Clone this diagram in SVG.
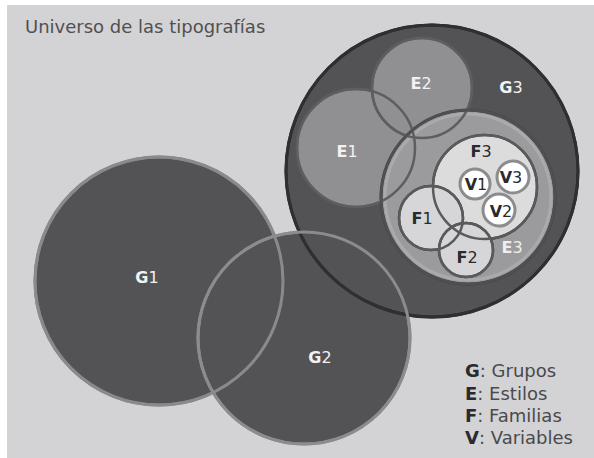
<svg xmlns="http://www.w3.org/2000/svg" width="594" height="458" viewBox="0 0 594 458">
<style>
  text { font-family: "DejaVu Sans", Verdana, sans-serif; }
  .lbl { font-size: 16px; text-anchor: middle; }
  .lt { fill: #f2f2f2; }
  .dk { fill: #2a2a2c; }
  .b { font-weight: bold; }
  .gfill { fill: #535355; }
  .efill { fill: #909092; }
  .ffill { fill: #d6d6d8; }
  .vc { fill: #ffffff; stroke: #8c8c8e; stroke-width: 3; }
  .line { fill: none; }
  .legend { font-size: 18px; fill: #4a4a4c; }
  .legend .b { fill: #2a2a2c; }
</style>
<rect x="0" y="0" width="594" height="458" fill="#ffffff"/>
<rect x="7" y="5" width="587" height="453" fill="#d3d3d5"/>
<text x="25" y="33" style="font-size:18px" fill="#505052">Universo de las tipografías</text>

<g id="G1">
  <circle class="gfill" cx="159" cy="281" r="124" stroke="#7e7e80" stroke-width="3"/>
  <text class="lbl lt" x="147" y="283"><tspan class="b">G</tspan>1</text>
</g>
<g id="G2">
  <circle class="gfill" cx="304" cy="338" r="106" stroke="#8c8c8e" stroke-width="3"/>
  <text class="lbl lt" x="320" y="363"><tspan class="b">G</tspan>2</text>
</g>
<g id="G3">
  <circle class="gfill" cx="432" cy="171" r="146" stroke="#2f2f31" stroke-width="3"/>
  <text class="lbl lt" x="511" y="93"><tspan class="b">G</tspan>3</text>
</g>
<g id="G-outlines">
  <circle class="line" cx="159" cy="281" r="124" stroke="#8a8a8c" stroke-width="3"/>
  <circle class="line" cx="432" cy="171" r="146" stroke="#2f2f31" stroke-width="3"/>
  <circle class="line" cx="304" cy="338" r="106" stroke="#8c8c8e" stroke-width="3"/>
</g>

<g id="E1">
  <circle class="efill" cx="356" cy="148" r="59" stroke="#5e5e60" stroke-width="2.5"/>
  <text class="lbl lt" x="347" y="157"><tspan class="b">E</tspan>1</text>
</g>
<g id="E2">
  <circle class="efill" cx="422" cy="88" r="50" stroke="#5e5e60" stroke-width="2.5"/>
  <text class="lbl lt" x="421" y="89"><tspan class="b">E</tspan>2</text>
</g>
<g id="E3">
  <circle cx="468" cy="197" r="87" fill="#9b9b9d" stroke="#3e3e40" stroke-width="3"/>
  <circle class="line" cx="468" cy="197" r="83" stroke="#b4b4b6" stroke-width="3" stroke-opacity="0.6"/>
  <text class="lbl" fill="#eeeeee" x="512" y="253"><tspan class="b">E</tspan>3</text>
</g>
<g id="E-outlines">
  <circle class="line" cx="356" cy="148" r="59" stroke="#5e5e60" stroke-width="2.5"/>
  <circle class="line" cx="422" cy="88" r="50" stroke="#5e5e60" stroke-width="2.5"/>
  <circle class="line" cx="468" cy="197" r="87" stroke="#505052" stroke-width="2.5"/>
</g>

<g id="F3">
  <circle cx="485" cy="187" r="52" fill="#dcdcdd" stroke="#454547" stroke-width="2.5"/>
  <text class="lbl dk" x="481" y="157"><tspan class="b">F</tspan>3</text>
</g>
<g id="F1">
  <circle class="ffill" cx="431" cy="218" r="32" stroke="#454547" stroke-width="2.5"/>
  <text class="lbl dk" x="422" y="224"><tspan class="b">F</tspan>1</text>
</g>
<g id="F2">
  <circle class="ffill" cx="466" cy="250" r="27" stroke="#454547" stroke-width="2.5"/>
  <text class="lbl dk" x="467" y="263"><tspan class="b">F</tspan>2</text>
</g>
<g id="F-outlines">
  <circle class="line" cx="485" cy="187" r="52" stroke="#5a5a5c" stroke-width="2.5"/>
  <circle class="line" cx="431" cy="218" r="32" stroke="#5a5a5c" stroke-width="2.5"/>
  <circle class="line" cx="466" cy="250" r="27" stroke="#5a5a5c" stroke-width="2.5"/>
</g>

<g id="V1">
  <circle class="vc" cx="475" cy="184" r="15"/>
  <text class="lbl dk" x="476" y="190"><tspan class="b">V</tspan>1</text>
</g>
<g id="V3">
  <circle class="vc" cx="513" cy="177" r="16"/>
  <text class="lbl dk" x="511" y="183"><tspan class="b">V</tspan>3</text>
</g>
<g id="V2">
  <circle class="vc" cx="499" cy="210" r="16"/>
  <text class="lbl dk" x="501" y="217"><tspan class="b">V</tspan>2</text>
</g>

<g id="legend" class="legend">
  <text x="465" y="377"><tspan class="b">G</tspan>: Grupos</text>
  <text x="465" y="400"><tspan class="b">E</tspan>: Estilos</text>
  <text x="465" y="422"><tspan class="b">F</tspan>: Familias</text>
  <text x="465" y="444"><tspan class="b">V</tspan>: Variables</text>
</g>
</svg>
